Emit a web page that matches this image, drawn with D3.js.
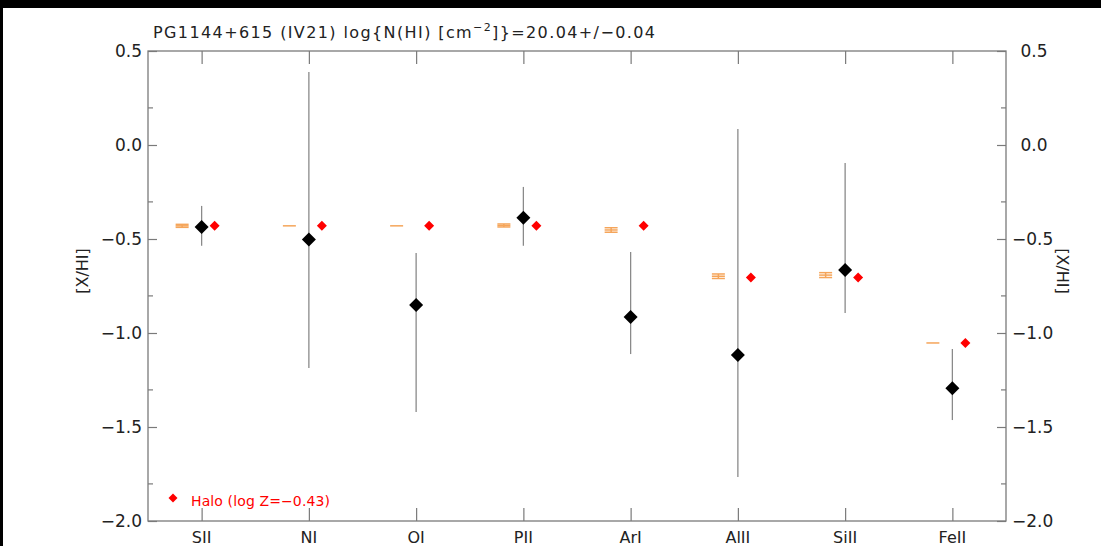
<!DOCTYPE html>
<html>
<head>
<meta charset="utf-8">
<script src="https://cdn.jsdelivr.net/npm/d3@7"></script>
<style>
  html, body { margin: 0; padding: 0; background: #fff; overflow: hidden; }
  svg { display: block; }
  text { font-family: "DejaVu Sans", sans-serif; fill: #222; }
</style>
</head>
<body>
<svg id="chart" width="1101" height="546"></svg>
<script>
// Ions along the x axis
const ions = ["SII", "NI", "OI", "PII", "ArI", "AlII", "SiII", "FeII"];
// Measured [X/HI] with lower / upper range
const xhValue = [-0.436, -0.502, -0.851, -0.387, -0.915, -1.117, -0.665, -1.294];
const xhUpper = [-0.324, 0.388, -0.574, -0.223, -0.569, 0.085, -0.096, -1.085];
const xhLower = [-0.536, -1.186, -1.420, -0.536, -1.112, -1.766, -0.894, -1.463];
// Halo model (log Z = -0.43)
const haloValue = [-0.43, -0.43, -0.43, -0.43, -0.43, -0.705, -0.705, -1.053];
// Reference model points with small error
const refValue = [-0.430, -0.430, -0.430, -0.428, -0.452, -0.698, -0.692, -1.053];
const refError = [0.008, 0.0, 0.0, 0.008, 0.012, 0.012, 0.013, 0.0];
// Axis ticks
const majorTicks = [-2.0, -1.5, -1.0, -0.5, 0.0, 0.5];
const minorTicks = [-1.8, -1.3, -0.8, -0.3, 0.2];

const svg = d3.select("#chart");
const W = 1101, H = 546;
const plotL = 148, plotR = 1006, plotT = 51, plotB = 521;

svg.append("rect").attr("width", W).attr("height", H).attr("fill", "#fff");
// dark border strips along the top and left edge
svg.append("rect").attr("x", 0).attr("y", 0).attr("width", W).attr("height", 8).attr("fill", "#000");
svg.append("rect").attr("x", 0).attr("y", 0).attr("width", 3).attr("height", H).attr("fill", "#000");

const x = d3.scalePoint().domain(ions).range([plotL, plotR]).padding(0.5);
const y = d3.scaleLinear().domain([-2.0, 0.5]).range([plotB, plotT]);

const axisColor = "#7a7a7a";
const fmt = v => (v < 0 ? "\u2212" : "") + Math.abs(v).toFixed(1);

// frame
svg.append("rect")
  .attr("x", plotL).attr("y", plotT)
  .attr("width", plotR - plotL).attr("height", plotB - plotT)
  .attr("fill", "none").attr("stroke", axisColor).attr("stroke-width", 1.3);

function styleAxis(g) {
  g.select(".domain").remove();
  g.selectAll(".tick line").attr("stroke", axisColor).attr("stroke-width", 1.2);
}

// left axis: labels outside, ticks pointing inward
const gl = svg.append("g").attr("transform", `translate(${plotL},0)`)
  .call(d3.axisRight(y).tickValues(majorTicks).tickSize(9).tickFormat(""));
styleAxis(gl);
const glm = svg.append("g").attr("transform", `translate(${plotL},0)`)
  .call(d3.axisRight(y).tickValues(minorTicks).tickSize(5).tickFormat(""));
styleAxis(glm);
svg.append("g").selectAll("text").data(majorTicks).join("text")
  .attr("x", plotL - 6).attr("y", d => y(d))
  .attr("dy", "0.36em").attr("text-anchor", "end")
  .attr("font-size", 17).text(fmt);

// right axis
const gr = svg.append("g").attr("transform", `translate(${plotR},0)`)
  .call(d3.axisLeft(y).tickValues(majorTicks).tickSize(9).tickFormat(""));
styleAxis(gr);
const grm = svg.append("g").attr("transform", `translate(${plotR},0)`)
  .call(d3.axisLeft(y).tickValues(minorTicks).tickSize(5).tickFormat(""));
styleAxis(grm);
svg.append("g").selectAll("text").data(majorTicks).join("text")
  .attr("x", d => plotR + 6 + (d < 0 ? 0 : 8.5)).attr("y", d => y(d))
  .attr("dy", "0.36em").attr("text-anchor", "start")
  .attr("font-size", 17).text(fmt);

// bottom and top category ticks
const gb = svg.append("g").attr("transform", `translate(0,${plotB})`)
  .call(d3.axisTop(x).tickSize(13).tickFormat(""));
styleAxis(gb);
const gt = svg.append("g").attr("transform", `translate(0,${plotT})`)
  .call(d3.axisBottom(x).tickSize(13).tickFormat(""));
styleAxis(gt);
svg.append("g").selectAll("text").data(ions).join("text")
  .attr("x", d => x(d)).attr("y", 543)
  .attr("text-anchor", "middle").attr("font-size", 16).text(d => d);

// axis titles
svg.append("text")
  .attr("transform", "translate(88,271) rotate(-90)")
  .attr("text-anchor", "middle").attr("font-size", 16).text("[X/HI]");
svg.append("text")
  .attr("transform", "translate(1057,271) rotate(90)")
  .attr("text-anchor", "middle").attr("font-size", 16).text("[X/HI]");

// title
const title = svg.append("text")
  .attr("x", 153).attr("y", 38).attr("font-size", 16)
  .attr("textLength", 502).attr("lengthAdjust", "spacing");
title.append("tspan").text("PG1144+615 (IV21) log{N(HI) [cm");
title.append("tspan").attr("dy", -7).attr("font-size", 11).text("\u22122");
title.append("tspan").attr("dy", 7).text("]}=20.04+/\u22120.04");

const diamond = (cx, cy, r) => `M${cx},${cy - r}L${cx + r},${cy}L${cx},${cy + r}L${cx - r},${cy}Z`;

const rows = ions.map((ion, i) => ({
  ion, v: xhValue[i], hi: xhUpper[i], lo: xhLower[i],
  halo: haloValue[i], ref: refValue[i], refErr: refError[i]
}));

// reference model markers (orange, shifted left)
const refG = svg.append("g").attr("stroke", "#f5a55a").attr("stroke-width", 1.5).attr("fill", "none");
rows.forEach(d => {
  const cx = x(d.ion) - 19.5, hw = 6.5;
  refG.append("line").attr("x1", cx - hw).attr("x2", cx + hw)
    .attr("y1", y(d.ref)).attr("y2", y(d.ref));
  if (d.refErr > 0) {
    refG.append("line").attr("x1", cx - hw).attr("x2", cx + hw)
      .attr("y1", y(d.ref + d.refErr)).attr("y2", y(d.ref + d.refErr));
    refG.append("line").attr("x1", cx - hw).attr("x2", cx + hw)
      .attr("y1", y(d.ref - d.refErr)).attr("y2", y(d.ref - d.refErr));
    refG.append("line").attr("x1", cx).attr("x2", cx)
      .attr("y1", y(d.ref + d.refErr)).attr("y2", y(d.ref - d.refErr));
  }
});

// measurement ranges
svg.append("g").selectAll("line").data(rows).join("line")
  .attr("x1", d => x(d.ion)).attr("x2", d => x(d.ion))
  .attr("y1", d => y(d.hi)).attr("y2", d => y(d.lo))
  .attr("stroke", "#8a8a8a").attr("stroke-width", 1.3);

// measured values
svg.append("g").selectAll("path").data(rows).join("path")
  .attr("d", d => diamond(x(d.ion), y(d.v), 7))
  .attr("fill", "#000");

// halo model values
svg.append("g").selectAll("path").data(rows).join("path")
  .attr("d", d => diamond(x(d.ion) + 13, y(d.halo), 5))
  .attr("fill", "#f00");

// legend
svg.append("path").attr("d", diamond(173, 498, 4.5)).attr("fill", "#f00");
svg.append("text").attr("x", 191).attr("y", 506)
  .attr("font-size", 14).style("fill", "#f00")
  .attr("textLength", 139).attr("lengthAdjust", "spacing")
  .text("Halo (log Z=\u22120.43)");
</script>
</body>
</html>
